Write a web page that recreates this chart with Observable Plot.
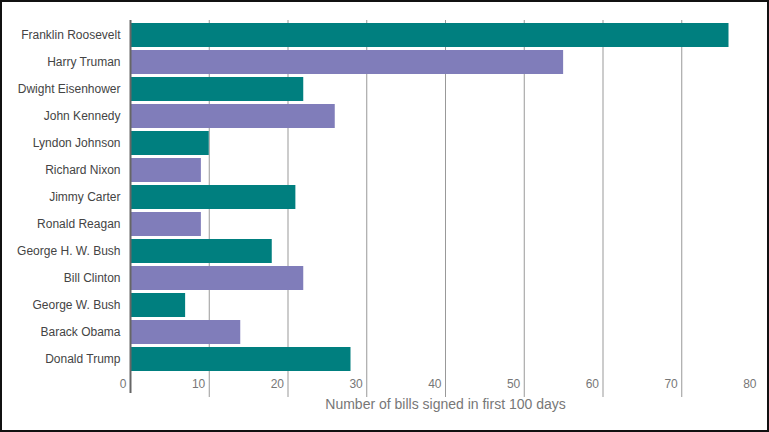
<!DOCTYPE html>
<html>
<head>
<meta charset="utf-8">
<script src="https://cdn.jsdelivr.net/npm/d3@7"></script>
<script src="https://cdn.jsdelivr.net/npm/@observablehq/plot@0.6"></script>
<style>
  html, body { margin: 0; padding: 0; background: #fff; }
  #chart svg { display: block; outline: 2px solid #111; outline-offset: -2px; }
</style>
</head>
<body>
<div id="chart"></div>
<script>
const presidents = [
  "Franklin Roosevelt", "Harry Truman", "Dwight Eisenhower", "John Kennedy",
  "Lyndon Johnson", "Richard Nixon", "Jimmy Carter", "Ronald Reagan",
  "George H. W. Bush", "Bill Clinton", "George W. Bush", "Barack Obama", "Donald Trump"
];
const bills = [76, 55, 22, 26, 10, 9, 21, 9, 18, 22, 7, 14, 28];
const xTicks = [0, 10, 20, 30, 40, 50, 60, 70, 80];
const xLabel = "Number of bills signed in first 100 days";

const teal = "#007f7f";
const purple = "#807dba";
const data = presidents.map((name, i) => ({name, bills: bills[i], i}));

const chart = Plot.plot({
  width: 769,
  height: 432,
  marginTop: 20,
  marginBottom: 57,
  marginLeft: 130,
  marginRight: 9,
  style: {fontFamily: "'Liberation Sans', Arial, sans-serif", fontSize: "12px", color: "#444", background: "#fff"},
  x: {domain: [0, 80], axis: null},
  y: {domain: presidents, padding: 0.1, label: null},
  marks: [
    Plot.gridX(xTicks.filter(t => t > 0 && t < 80), {stroke: "#999", strokeOpacity: 1, insetBottom: -22}),
    Plot.barX(data, {x: "bills", y: "name", fill: d => d.i % 2 ? purple : teal}),
    Plot.ruleX([0], {stroke: "#666", strokeWidth: 2, insetBottom: -18}),
    Plot.axisY({tickSize: 0, tickPadding: 10, fontSize: 12, fill: "#444", label: null}),
    Plot.text(xTicks, {x: d => d, text: d => String(d), frameAnchor: "bottom", dy: 12, dx: -4, textAnchor: "end", fill: "#777", fontSize: 12}),
    Plot.text([xLabel], {frameAnchor: "bottom", dy: 33, fill: "#777", fontSize: 14})
  ]
});
document.getElementById("chart").appendChild(chart);
</script>
</body>
</html>
